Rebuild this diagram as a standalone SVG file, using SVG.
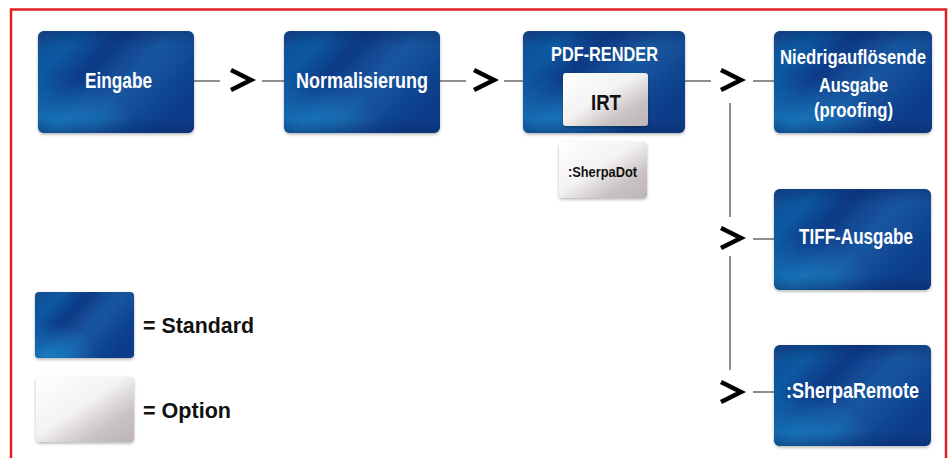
<svg xmlns="http://www.w3.org/2000/svg" width="950" height="458" viewBox="0 0 950 458">
<defs>
<linearGradient id="blue" x1="0" y1="0" x2="1" y2="0.6">
<stop offset="0" stop-color="#174a90"/>
<stop offset="0.2" stop-color="#0a5aa2"/>
<stop offset="0.4" stop-color="#103a86"/>
<stop offset="0.65" stop-color="#1457a0"/>
<stop offset="1" stop-color="#0f3c8a"/>
</linearGradient>
<linearGradient id="edge" x1="0" y1="0" x2="0" y2="1">
<stop offset="0" stop-color="#0a2a66" stop-opacity="0.45"/>
<stop offset="0.15" stop-color="#0a2a66" stop-opacity="0"/>
<stop offset="0.85" stop-color="#0a2a66" stop-opacity="0"/>
<stop offset="1" stop-color="#0a2a66" stop-opacity="0.5"/>
</linearGradient>
<radialGradient id="glowB" cx="0.12" cy="0.95" r="0.5">
<stop offset="0" stop-color="#1b8fd0" stop-opacity="0.75"/>
<stop offset="1" stop-color="#1b8fd0" stop-opacity="0"/>
</radialGradient>
<linearGradient id="opt" x1="0" y1="0" x2="1" y2="1">
<stop offset="0" stop-color="#ffffff"/>
<stop offset="0.45" stop-color="#f4f2f2"/>
<stop offset="0.75" stop-color="#c9c2c2"/>
<stop offset="1" stop-color="#bdb5b5"/>
</linearGradient>
<filter id="sh" x="-10%" y="-10%" width="120%" height="130%">
<feDropShadow dx="0" dy="1.5" stdDeviation="1.5" flood-color="#000" flood-opacity="0.3"/>
</filter>
</defs>
<style>
.b{fill:url(#blue);filter:url(#sh)}
.g{fill:url(#glowB)}
.e{fill:url(#edge)}
.o{fill:url(#opt);filter:url(#sh)}
.t{font-family:"Liberation Sans",Arial,sans-serif;font-weight:bold;fill:#fff}
.k{font-family:"Liberation Sans",Arial,sans-serif;font-weight:bold;fill:#111}
.ln{stroke:#444;stroke-width:1.2;fill:none}
.ch{stroke:#000;stroke-width:4.5;fill:none;stroke-linecap:butt;stroke-linejoin:miter}
</style>
<rect width="950" height="458" fill="#fff"/>
<path d="M11 460 V9.5 H946 V460" fill="none" stroke="#e02020" stroke-width="2.5"/>

<g id="connectors">
<line class="ln" x1="194" y1="81" x2="220" y2="81"/>
<polyline class="ch" points="231,70 251,80 231,90"/>
<line class="ln" x1="262" y1="81" x2="284" y2="81"/>
<line class="ln" x1="440" y1="81" x2="466" y2="81"/>
<polyline class="ch" points="474,70 494,80 474,90"/>
<line class="ln" x1="504" y1="81" x2="523" y2="81"/>
<line class="ln" x1="685" y1="81" x2="711" y2="81"/>
<polyline class="ch" points="721,70 741,80 721,90"/>
<line class="ln" x1="753" y1="81" x2="774" y2="81"/>
<line class="ln" x1="730" y1="103" x2="730" y2="217"/>
<polyline class="ch" points="721,228 741,238 721,248"/>
<line class="ln" x1="753" y1="239" x2="774" y2="239"/>
<line class="ln" x1="730" y1="256" x2="730" y2="370"/>
<polyline class="ch" points="721,382 741,392 721,402"/>
<line class="ln" x1="753" y1="392" x2="774" y2="392"/>
</g>

<g id="eingabe">
<rect class="b" x="38" y="31" width="156" height="102" rx="6"/>
<rect class="g" x="38" y="31" width="156" height="102" rx="6"/>
<rect class="e" x="38" y="31" width="156" height="102" rx="6"/>
<text class="t" x="85" y="88" font-size="22" textLength="67" lengthAdjust="spacingAndGlyphs">Eingabe</text>
</g>
<g id="normalisierung">
<rect class="b" x="284" y="31" width="156" height="102" rx="6"/>
<rect class="g" x="284" y="31" width="156" height="102" rx="6"/>
<rect class="e" x="284" y="31" width="156" height="102" rx="6"/>
<text class="t" x="296" y="88" font-size="22" textLength="132" lengthAdjust="spacingAndGlyphs">Normalisierung</text>
</g>
<g id="pdf-render">
<rect class="b" x="523" y="31" width="162" height="102" rx="6"/>
<rect class="g" x="523" y="31" width="162" height="102" rx="6"/>
<rect class="e" x="523" y="31" width="162" height="102" rx="6"/>
<text class="t" x="551" y="61" font-size="21" textLength="107" lengthAdjust="spacingAndGlyphs">PDF-RENDER</text>
<rect class="o" x="563" y="73" width="85" height="53" rx="3"/>
<text class="k" x="591" y="110" font-size="22" textLength="30" lengthAdjust="spacingAndGlyphs">IRT</text>
</g>
<g id="sherpadot">
<rect class="o" x="559" y="142" width="88" height="56" rx="4"/>
<text class="k" x="568" y="177" font-size="14" textLength="69" lengthAdjust="spacingAndGlyphs">:SherpaDot</text>
</g>
<g id="niedrig">
<rect class="b" x="774" y="31" width="158" height="102" rx="6"/>
<rect class="g" x="774" y="31" width="158" height="102" rx="6"/>
<rect class="e" x="774" y="31" width="158" height="102" rx="6"/>
<text class="t" x="780" y="64" font-size="21" textLength="146" lengthAdjust="spacingAndGlyphs">Niedrigauflösende</text>
<text class="t" x="819" y="92" font-size="21" textLength="69" lengthAdjust="spacingAndGlyphs">Ausgabe</text>
<text class="t" x="814" y="117" font-size="21" textLength="79" lengthAdjust="spacingAndGlyphs">(proofing)</text>
</g>
<g id="tiff">
<rect class="b" x="774" y="189" width="157" height="101" rx="6"/>
<rect class="g" x="774" y="189" width="157" height="101" rx="6"/>
<rect class="e" x="774" y="189" width="157" height="101" rx="6"/>
<text class="t" x="799" y="244" font-size="22" textLength="114" lengthAdjust="spacingAndGlyphs">TIFF-Ausgabe</text>
</g>
<g id="sherparemote">
<rect class="b" x="774" y="345" width="157" height="101" rx="6"/>
<rect class="g" x="774" y="345" width="157" height="101" rx="6"/>
<rect class="e" x="774" y="345" width="157" height="101" rx="6"/>
<text class="t" x="786" y="398" font-size="22" textLength="133" lengthAdjust="spacingAndGlyphs">:SherpaRemote</text>
</g>

<g id="legend-standard">
<rect class="b" x="35" y="292" width="99" height="66" rx="4"/>
<rect class="g" x="35" y="292" width="99" height="66" rx="4"/>
<text class="k" x="143" y="333" font-size="22" textLength="111" lengthAdjust="spacingAndGlyphs">= Standard</text>
</g>
<g id="legend-option">
<rect class="o" x="36" y="377" width="98" height="65" rx="4"/>
<text class="k" x="143" y="418" font-size="22" textLength="88" lengthAdjust="spacingAndGlyphs">= Option</text>
</g>
</svg>
